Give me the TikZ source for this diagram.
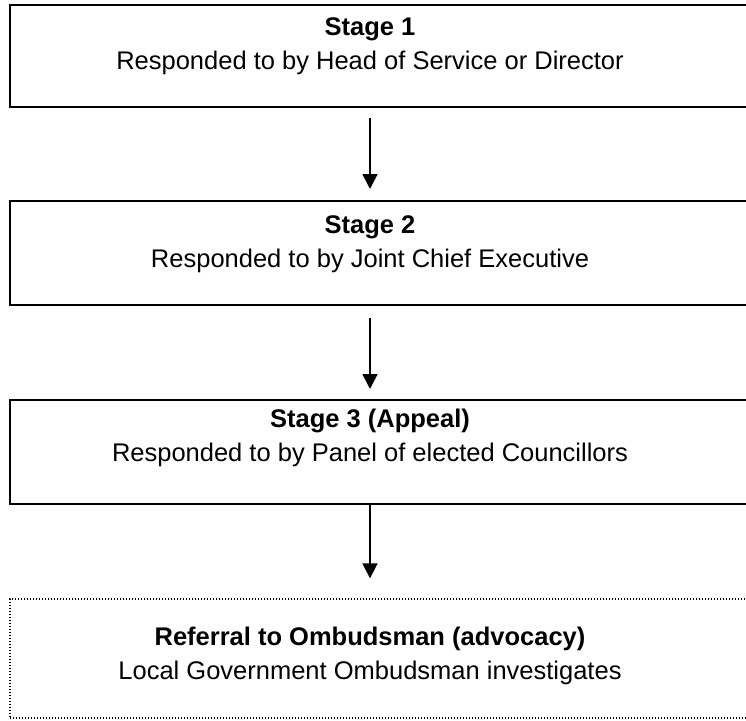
\documentclass[tikz,border=0pt]{standalone}
\usepackage{fontspec}
\setmainfont{Liberation Sans}
\usepackage{tikz}
\usetikzlibrary{arrows.meta}

\begin{document}
\begin{tikzpicture}[x=1pt,y=-1pt]
        %
        % `stage' is used for the solid boxes, `referral' for the dotted one.
        % `label' holds the two lines of text, `steparrow' the connectors.
        \tikzstyle{stage} = [draw,line width=2pt,minimum width=740pt,inner sep=0pt]
        \tikzstyle{referral} = [draw,line width=1.3pt,dash pattern=on 1.3pt off 1.7pt,minimum width=740pt,inner sep=0pt]
        \tikzstyle{label} = [align=center,font=\fontsize{25.5}{33.5}\selectfont,inner sep=0pt]
        \tikzstyle{steparrow} = [line width=1.6pt,-{Triangle[length=15pt,width=15pt]}]
        %
        \useasboundingbox (0,0) rectangle (746,720);
        %
        % Boxes
        \node[stage,minimum height=102pt] (box1) at (380,56) {};
        \node[stage,minimum height=104pt] (box2) at (380,253) {};
        \node[stage,minimum height=104pt] (box3) at (380,452) {};
        \node[referral,minimum height=119pt] (box4) at (380,658.5) {};
        %
        % Texts
        \node[label] (text1) at (370,46) {\textbf{Stage 1}\\Responded to by Head of Service or Director};
        \node[label] (text2) at (370,244) {\textbf{Stage 2}\\Responded to by Joint Chief Executive};
        \node[label] (text3) at (370,438) {\textbf{Stage 3 (Appeal)}\\Responded to by Panel of elected Councillors};
        \node[label] (text4) at (370,656) {\textbf{Referral to Ombudsman (advocacy)}\\Local Government Ombudsman investigates};
        %
        % Arrows
        \draw[steparrow] ([yshift=-10pt]box1.south -| text1) -- ([yshift=11pt]box2.north -| text2);
        \draw[steparrow] ([yshift=-12pt]box2.south -| text2) -- ([yshift=10pt]box3.north -| text3);
        \draw[steparrow] (box3.south -| text3) -- ([yshift=20pt]box4.north -| text4);
        %
\end{tikzpicture}
\end{document}
